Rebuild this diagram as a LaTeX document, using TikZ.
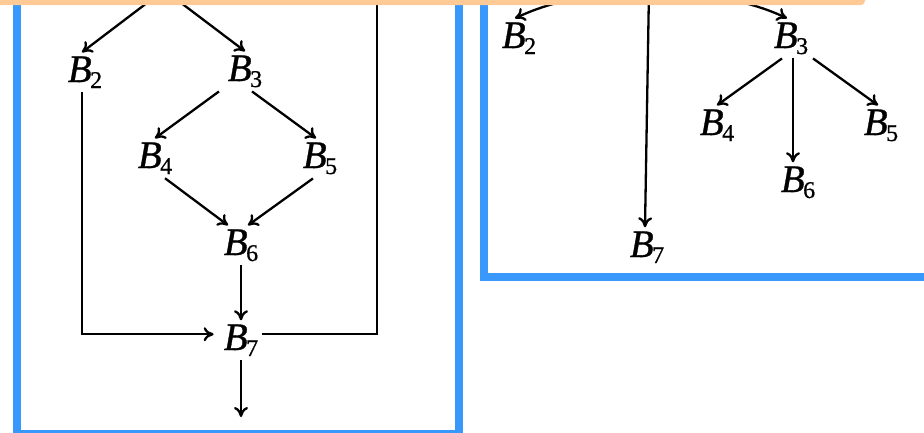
\documentclass[tikz,border=0pt]{standalone}
\usepackage{fontspec}
\setmainfont{Liberation Serif}
\newfontfamily\lblfont[FakeBold=0.8]{Liberation Serif}
\usepackage{tikz}
\usetikzlibrary{arrows.meta}
\definecolor{frameblue}{RGB}{56,152,252}
\definecolor{barpeach}{RGB}{255,202,150}
\newcommand{\blk}[1]{\textit{B}\kern-1.5pt\raisebox{-6pt}{\fontsize{24}{24}\selectfont #1}}

\begin{document}
\begin{tikzpicture}[x=1pt, y=1pt,
    blk/.style={inner sep=4pt, anchor=base, font=\lblfont\fontsize{39}{40}\selectfont},
    arr/.style={line width=2.3pt, -{To[length=10pt,width=14pt]}},
    edge/.style={line width=2.3pt},
    panel/.style={frameblue, line width=8pt}]
  \useasboundingbox (0,0) rectangle (924,-432);
  \clip (0,0) rectangle (924,-432);
  % frames
  \draw[panel] (16.5,10) -- (16.5,-434) -- (459,-434) -- (459,10);
  \draw[panel] (483.5,10) -- (483.5,-277) -- (935,-277);
  % left panel: flow graph
  \node[blk] (l2) at (85,-82) {\blk{2}};
  \node[blk] (l3) at (245,-81) {\blk{3}};
  \node[blk] (l4) at (155,-168) {\blk{4}};
  \node[blk] (l5) at (320,-168) {\blk{5}};
  \node[blk] (l6) at (241,-255) {\blk{6}};
  \node[blk] (l7) at (241,-350) {\blk{7}};
  \coordinate (ltop) at (164,10);
  \coordinate (lback) at (377,10);
  \coordinate (lout) at (241,-417);
  \draw[arr] (ltop) -- ([xshift=-3pt]l2.north);
  \draw[arr] (ltop) -- (l3.north);
  \draw[arr] ([xshift=-26pt]l3.south) -- (l4.north);
  \draw[arr] ([xshift=7pt]l3.south) -- ([xshift=-4pt]l5.north);
  \draw[arr] ([xshift=10pt]l4.south) -- ([xshift=-13pt]l6.north);
  \draw[arr] ([xshift=-7pt]l5.south) -- ([xshift=7pt]l6.north);
  \draw[arr] (l6.south) -- (l7.north);
  \draw[arr] ([xshift=-3pt]l2.south) |- ([xshift=-6pt,yshift=6pt]l7.west);
  \draw[edge] ([yshift=6pt]l7.east) -| (lback);
  \draw[arr] (l7.south) -- (lout);
  % right panel: dominator tree
  \node[blk] (r2) at (519,-48) {\blk{2}};
  \node[blk] (r3) at (791,-48) {\blk{3}};
  \node[blk] (r4) at (717,-135) {\blk{4}};
  \node[blk] (r5) at (881,-135) {\blk{5}};
  \node[blk] (r6) at (798,-192) {\blk{6}};
  \node[blk] (r7) at (647,-257) {\blk{7}};
  \coordinate (r1l) at (600,8);
  \coordinate (r1m) at (649,10);
  \coordinate (r1r) at (700,8);
  \draw[arr] (r1l) to[out=195,in=25] ([xshift=-4pt]r2.north);
  \draw[arr] (r1r) to[out=-15,in=155] ([xshift=-4pt]r3.north);
  \draw[arr] (r1m) -- ([xshift=-2pt]r7.north);
  \draw[arr] ([xshift=-9pt]r3.south) -- (r4.north);
  \draw[arr] ([xshift=2pt]r3.south) -- ([xshift=-5pt]r6.north);
  \draw[arr] ([xshift=22pt]r3.south) -- ([xshift=-3pt]r5.north);
  % top bar
  \fill[barpeach, rounded corners=4pt] (-20,20) rectangle (865,-5);
\end{tikzpicture}
\end{document}
